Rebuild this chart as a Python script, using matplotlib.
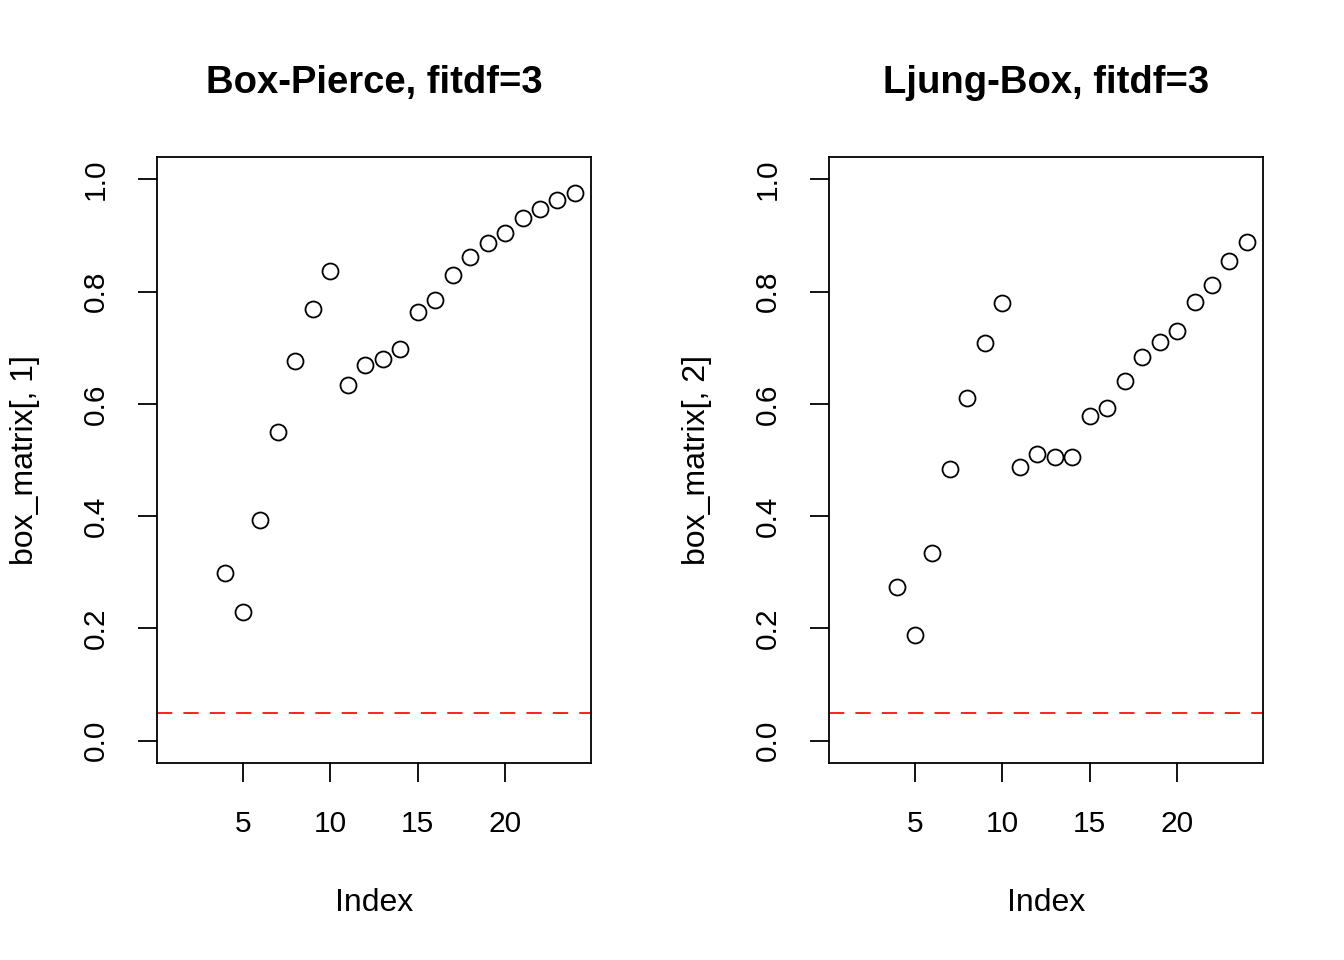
import matplotlib
matplotlib.use('Agg')
import matplotlib.pyplot as plt

plt.rcParams['font.family'] = ['Liberation Sans', 'DejaVu Sans']
plt.rcParams['lines.scale_dashes'] = False

lags = list(range(4, 25))
box_pierce = [0.299, 0.230, 0.393, 0.550, 0.676, 0.770, 0.836, 0.633, 0.669, 0.680,
              0.697, 0.763, 0.786, 0.829, 0.861, 0.886, 0.904, 0.931, 0.947, 0.963, 0.975]
ljung_box = [0.274, 0.189, 0.335, 0.484, 0.610, 0.708, 0.779, 0.488, 0.511, 0.505,
             0.505, 0.578, 0.593, 0.641, 0.683, 0.710, 0.730, 0.781, 0.811, 0.854, 0.888]
titles = ['Box-Pierce, fitdf=3', 'Ljung-Box, fitdf=3']
ylabels = ['box_matrix[, 1]', 'box_matrix[, 2]']
alpha = 0.05

fig = plt.figure(figsize=(13.44, 9.6), dpi=100)
lefts = [157 / 1344, 829 / 1344]
series = [box_pierce, ljung_box]

for i in range(2):
    ax = fig.add_axes([lefts[i], 1 - 763 / 960, 434 / 1344, 606 / 960])
    ax.plot(lags, series[i], 'o', mfc='none', mec='black', ms=11.5, mew=1.3)
    ax.axhline(alpha, color='#ff2020', lw=1.4, dashes=(11, 8))
    ax.set_xlim(1 - 0.92, 24 + 0.92)
    ax.set_ylim(-0.04, 1.04)
    ax.set_xticks([5, 10, 15, 20])
    ax.set_yticks([0.0, 0.2, 0.4, 0.6, 0.8, 1.0])
    ax.set_yticklabels(['0.0', '0.2', '0.4', '0.6', '0.8', '1.0'], rotation=90, va='center')
    ax.tick_params(direction='out', length=14, width=1.3, labelsize=21.5, pad=20)
    for s in ax.spines.values():
        s.set_linewidth(1.3)
    ax.set_title(titles[i], fontsize=27.5, fontweight='bold', pad=46)
    ax.set_xlabel('Index', fontsize=23, labelpad=36)
    ax.set_ylabel(ylabels[i], fontsize=23, labelpad=30)

fig.savefig('out.png', dpi=100)
